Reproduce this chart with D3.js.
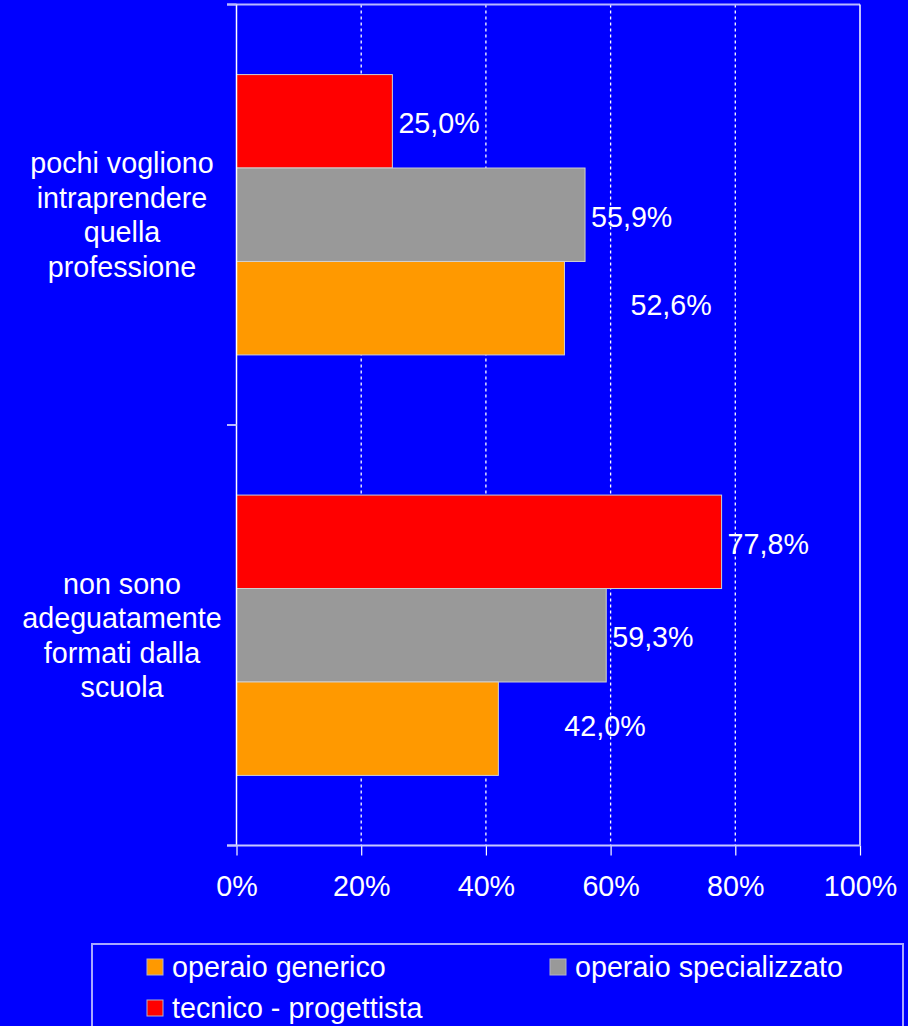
<!DOCTYPE html>
<html lang="it">
<head>
<meta charset="utf-8">
<script src="https://d3js.org/d3.v7.min.js"></script>
<style>
  html, body { margin: 0; padding: 0; background: #0000ff; }
  svg { display: block; font-family: "Liberation Sans", Arial, sans-serif; }
</style>
</head>
<body>
<svg id="chart" width="908" height="1026"></svg>
<script>
// data
var categories = ["pochi vogliono intraprendere quella professione", "non sono adeguatamente formati dalla scuola"];
var categoryLines = [["pochi vogliono", "intraprendere", "quella", "professione"],
                     ["non sono", "adeguatamente", "formati dalla", "scuola"]];
var seriesNames = ["tecnico - progettista", "operaio specializzato", "operaio generico"];
var seriesColors = ["#ff0000", "#999999", "#ff9900"];
var tecnico = [25.0, 77.8];
var specializzato = [55.9, 59.3];
var generico = [52.6, 42.0];
var xTicks = [0, 20, 40, 60, 80, 100];

var values = [tecnico, specializzato, generico];

var svg = d3.select("#chart");
var plotLeft = 236.5, plotRight = 860, plotTop = 4.5, plotBottom = 845.5;
var fontSize = 28.7;

var x = d3.scaleLinear().domain([0, 100]).range([plotLeft, plotRight]);
var y = d3.scaleBand().domain(categories).range([plotTop, plotBottom]);
var inner = d3.scaleBand().domain(seriesNames).range([0, y.bandwidth()]).paddingOuter(0.75);

// gridlines
svg.append("g").selectAll("line")
  .data(xTicks.filter(function(t) { return t > 0 && t < 100; }))
  .enter().append("line")
    .attr("x1", function(d) { return x(d); }).attr("x2", function(d) { return x(d); })
    .attr("y1", plotTop).attr("y2", plotBottom)
    .attr("stroke", "#fff").attr("stroke-width", 1.3)
    .attr("stroke-dasharray", "3,3");

// plot frame (top + right)
svg.append("line").attr("x1", 227).attr("x2", plotRight).attr("y1", plotTop).attr("y2", plotTop)
  .attr("stroke", "#b8b8ff").attr("stroke-width", 2);
svg.append("line").attr("x1", plotRight).attr("x2", plotRight).attr("y1", plotTop).attr("y2", plotBottom)
  .attr("stroke", "#fff").attr("stroke-width", 1.5);

// bars
var bars = [];
values.forEach(function(arr, si) {
  arr.forEach(function(v, ci) { bars.push({s: si, c: ci, v: v}); });
});

svg.append("g").selectAll("rect")
  .data(bars)
  .enter().append("rect")
    .attr("x", x(0))
    .attr("y", function(d) { return y(categories[d.c]) + inner(seriesNames[d.s]); })
    .attr("width", function(d) { return x(d.v) - x(0); })
    .attr("height", inner.bandwidth())
    .attr("fill", function(d) { return seriesColors[d.s]; })
    .attr("stroke", "#d0d0d0").attr("stroke-width", 1);

// value labels (orange ones sit further out, as in the original)
var fmt = function(v) { return d3.format(".1f")(v).replace(".", ",") + "%"; };
svg.append("g").selectAll("text")
  .data(bars)
  .enter().append("text")
    .attr("x", function(d) { return x(d.v) + (d.s === 2 ? 66 : 6); })
    .attr("y", function(d) { return y(categories[d.c]) + inner(seriesNames[d.s]) + inner.bandwidth() / 2 + (d.s === 2 ? -3 : 2); })
    .attr("dy", "0.35em")
    .attr("fill", "#fff").attr("font-size", fontSize)
    .text(function(d) { return fmt(d.v); });

// left axis
svg.append("line").attr("x1", plotLeft).attr("x2", plotLeft).attr("y1", plotTop).attr("y2", plotBottom)
  .attr("stroke", "#fff").attr("stroke-width", 1.5);
svg.append("g").selectAll("line")
  .data([plotTop, y(categories[1]), plotBottom])
  .enter().append("line")
    .attr("x1", 227).attr("x2", plotLeft).attr("y1", function(d) { return d; }).attr("y2", function(d) { return d; })
    .attr("stroke", "#b8b8ff").attr("stroke-width", 2);

// category labels
categoryLines.forEach(function(lines, ci) {
  var cy = y(categories[ci]) + y.bandwidth() / 2;
  var t = svg.append("text").attr("text-anchor", "middle").attr("fill", "#fff").attr("font-size", fontSize);
  lines.forEach(function(l, i) {
    t.append("tspan").attr("x", 122)
      .attr("y", cy + (i - (lines.length - 1) / 2) * 34.5)
      .attr("dy", "0.35em")
      .text(l);
  });
});

// bottom axis
var xAxis = d3.axisBottom(x).tickValues(xTicks).tickSize(10).tickPadding(20)
  .tickFormat(function(d) { return d + "%"; });
var gx = svg.append("g").attr("transform", "translate(0," + plotBottom + ")").call(xAxis);
gx.select(".domain").remove();
gx.selectAll(".tick line").attr("stroke", "#fff").attr("stroke-width", 1.2);
gx.selectAll(".tick text").attr("fill", "#fff").attr("font-size", fontSize)
  .attr("font-family", "Liberation Sans, Arial, sans-serif");
svg.append("line").attr("x1", 227).attr("x2", plotRight).attr("y1", plotBottom).attr("y2", plotBottom)
  .attr("stroke", "#c8c8ff").attr("stroke-width", 2);

// legend
var legend = svg.append("g");
legend.append("rect").attr("x", 92).attr("y", 944).attr("width", 811).attr("height", 100)
  .attr("fill", "none").attr("stroke", "#a8a8ff").attr("stroke-width", 2);
var legendOrder = [2, 1, 0];
var legendPos = [[147, 967], [550, 967], [147, 1008]];
legendOrder.forEach(function(si, i) {
  var p = legendPos[i];
  legend.append("rect").attr("x", p[0]).attr("y", p[1] - 8).attr("width", 16).attr("height", 16)
    .attr("fill", seriesColors[si]).attr("stroke", "#b0b0c8").attr("stroke-width", 1);
  legend.append("text").attr("x", p[0] + 25).attr("y", p[1]).attr("dy", "0.35em")
    .attr("fill", "#fff").attr("font-size", fontSize).text(seriesNames[si]);
});
</script>
</body>
</html>
